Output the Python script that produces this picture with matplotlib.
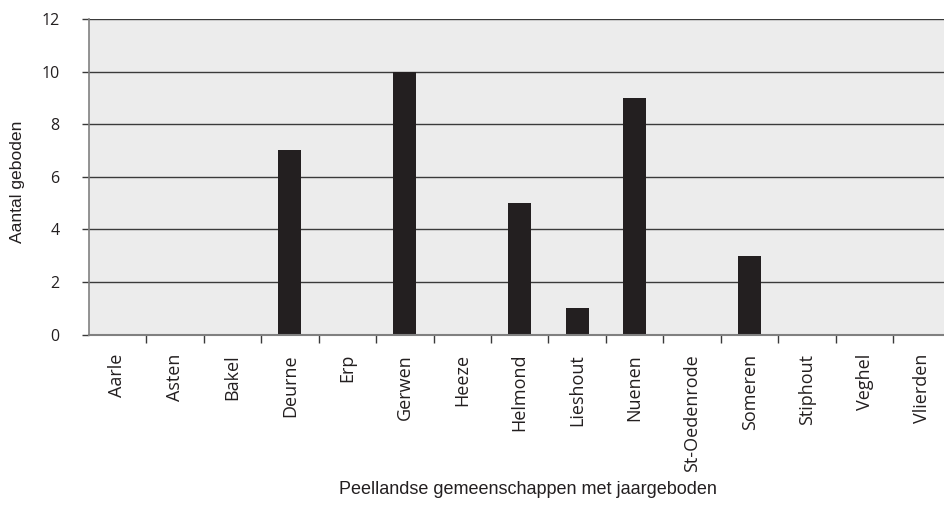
import matplotlib
matplotlib.use("Agg")
import matplotlib.pyplot as plt
import numpy as np

categories = ["Aarle", "Asten", "Bakel", "Deurne", "Erp", "Gerwen", "Heeze", "Helmond",
              "Lieshout", "Nuenen", "St-Oedenrode", "Someren", "Stiphout", "Veghel", "Vlierden"]
values = [0, 0, 0, 7, 0, 10, 0, 5, 1, 9, 0, 3, 0, 0, 0]
yticks = [0, 2, 4, 6, 8, 10, 12]

W, H = 945, 511
fig = plt.figure(figsize=(W / 100, H / 100), dpi=100)
left, right, top, bottom = 88.7, 950.7, 19, 334.5
ax = fig.add_axes([left / W, 1 - bottom / H, (right - left) / W, (bottom - top) / H])
ax.set_facecolor("#ececec")

x = np.arange(len(categories))
ax.bar(x, values, width=0.4, color="#231f20", zorder=3)
ax.set_xlim(-0.5, len(categories) - 0.5)
ax.set_ylim(0, 12)

ax.set_yticks(yticks)
ax.set_yticklabels([str(v) for v in yticks], fontfamily="Open Sans", fontsize=11.5,
                   color="#231f20")
ax.yaxis.grid(True, color="#3a3a3a", linewidth=1.0, zorder=1)
ax.tick_params(axis="y", length=5, width=1, color="#3a3a3a", pad=16)

ax.set_xticks(x)
ax.set_xticklabels(categories, rotation=90, fontfamily="Open Sans", fontsize=13,
                   color="#231f20")
ax.set_xticks(np.arange(len(categories)) + 0.5, minor=True)
ax.tick_params(axis="x", which="major", length=0, pad=14)
ax.tick_params(axis="x", which="minor", length=6, width=1, color="#3a3a3a")

for s in ["top", "right"]:
    ax.spines[s].set_visible(False)
ax.spines["left"].set_color("#808080")
ax.spines["bottom"].set_color("#808080")
ax.spines["bottom"].set_linewidth(1.5)
ax.spines["left"].set_linewidth(1.2)
ax.spines["bottom"].set_zorder(4)

fig.text(528 / W, 1 - 490 / H, "Peellandse gemeenschappen met jaargeboden",
         ha="center", va="center", fontfamily="Liberation Sans", fontsize=13, color="#231f20")
fig.text(18 / W, 1 - 182 / H, "Aantal geboden", rotation=90,
         ha="center", va="center", fontfamily="Liberation Sans", fontsize=12.6, color="#231f20")

fig.savefig("out.png", dpi=100)
